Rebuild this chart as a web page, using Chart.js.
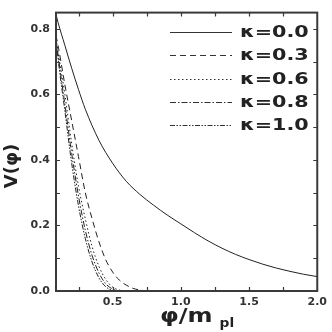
<!DOCTYPE html>
<html>
<head>
<meta charset="utf-8">
<script src="https://cdn.jsdelivr.net/npm/chart.js@4/dist/chart.umd.min.js"></script>
<style>
html,body{margin:0;padding:0;background:#fff;}
#wrap{width:332px;height:332px;}
</style>
</head>
<body>
<div id="wrap"><canvas id="c" width="332" height="332"></canvas></div>
<script>
// ---- data ----
const phiSolid = [0.085,0.1,0.15,0.2,0.25,0.3,0.4,0.5,0.6,0.7,0.8,0.9,1.0,1.1,1.2,1.3,1.4,1.5,1.6,1.7,1.8,1.9,2.0];
const vK00     = [0.845,0.82,0.75,0.68,0.615,0.555,0.46,0.39,0.335,0.295,0.262,0.232,0.205,0.178,0.153,0.131,0.112,0.096,0.082,0.07,0.06,0.051,0.044];
const phiSteep = [0.085,0.1,0.15,0.2,0.25,0.3,0.35,0.4,0.45,0.5,0.55,0.6,0.65,0.7,0.75];
const vK03     = [0.78,0.75,0.63,0.52,0.41,0.30,0.22,0.15,0.095,0.058,0.033,0.018,0.008,0.003,0.0];
const vK06     = [0.77,0.73,0.60,0.45,0.32,0.22,0.135,0.075,0.035,0.012,0.003,0.0];
const vK08     = [0.77,0.72,0.57,0.42,0.29,0.185,0.108,0.055,0.022,0.006,0.0];
const vK10     = [0.77,0.71,0.55,0.39,0.26,0.16,0.088,0.04,0.013,0.002,0.0];
const kappaLabels = ['κ=0.0','κ=0.3','κ=0.6','κ=0.8','κ=1.0'];
const xTickLabels = [0.5,1.0,1.5,2.0];
const xMinorTicks = [0.25,0.5,0.75,1.0,1.25,1.5,1.75];
const yTickLabels = [0.0,0.2,0.4,0.6,0.8];
const yMinorTicks = [0.1,0.2,0.3,0.4,0.5,0.6,0.7,0.8];

const dashes = [[], [6,4], [1.5,2.5], [6,2,1.5,2], [5,1.5,1.5,1.5,1.5,1.5]];
const series = [vK00, vK03, vK06, vK08, vK10];
const xs = [phiSolid, phiSteep, phiSteep, phiSteep, phiSteep];

const datasets = series.map((vals, i) => ({
  label: kappaLabels[i],
  data: vals.map((v, j) => ({x: xs[i][j], y: v})),
  borderColor: '#222',
  borderWidth: 1,
  borderDash: dashes[i],
  pointRadius: 0,
  fill: false,
  cubicInterpolationMode: 'monotone'
}));

const AX = '#3a3a3a';
const frame = {
  id: 'frame',
  afterDraw(chart) {
    const ctx = chart.ctx, a = chart.chartArea;
    const sx = chart.scales.x, sy = chart.scales.y;
    ctx.save();
    ctx.strokeStyle = AX;
    ctx.lineWidth = 2;
    ctx.strokeRect(a.left, a.top, a.right - a.left, a.bottom - a.top);
    ctx.lineWidth = 1.2;
    ctx.beginPath();
    xMinorTicks.forEach(v => {
      const px = Math.round(sx.getPixelForValue(v)) + 0.5;
      ctx.moveTo(px, a.bottom); ctx.lineTo(px, a.bottom - 4);
      ctx.moveTo(px, a.top); ctx.lineTo(px, a.top + 4);
    });
    yMinorTicks.forEach(v => {
      const py = Math.round(sy.getPixelForValue(v)) + 0.5;
      ctx.moveTo(a.left, py); ctx.lineTo(a.left + 4, py);
      ctx.moveTo(a.right, py); ctx.lineTo(a.right - 4, py);
    });
    ctx.stroke();

    // legend
    ctx.fillStyle = '#222';
    ctx.font = 'bold 15px "DejaVu Sans"';
    ctx.textBaseline = 'middle';
    const rows = [32, 55, 79, 102, 125];
    rows.forEach((y, i) => {
      ctx.save();
      ctx.strokeStyle = '#333';
      ctx.lineWidth = 1;
      ctx.setLineDash(dashes[i]);
      ctx.beginPath();
      ctx.moveTo(170, y + 0.5); ctx.lineTo(232, y + 0.5);
      ctx.stroke();
      ctx.restore();
      ctx.save();
      ctx.translate(240, y);
      ctx.scale(1.38, 1);
      ctx.fillText(kappaLabels[i], 0, 1);
      ctx.restore();
    });

    // y title
    ctx.save();
    ctx.translate(12, 166);
    ctx.rotate(-Math.PI / 2);
    ctx.textAlign = 'center';
    ctx.textBaseline = 'middle';
    ctx.font = 'bold 18px "DejaVu Sans"';
    ctx.fillText('V(φ)', 0, 0);
    ctx.restore();

    // x title
    ctx.save();
    ctx.textBaseline = 'alphabetic';
    ctx.textAlign = 'left';
    ctx.font = 'bold 20px "DejaVu Sans"';
    ctx.save();
    ctx.translate(160, 322);
    ctx.scale(1.2, 1);
    ctx.fillText('φ/m', 0, 0);
    const w = ctx.measureText('φ/m').width;
    ctx.restore();
    ctx.font = 'bold 12px "DejaVu Sans"';
    ctx.save();
    ctx.translate(160 + w * 1.2 + 7, 327);
    ctx.scale(1.15, 1);
    ctx.fillText('pl', 0, 0);
    ctx.restore();
    ctx.restore();
    ctx.restore();
  }
};

new Chart(document.getElementById('c'), {
  type: 'line',
  data: { datasets },
  options: {
    responsive: false,
    animation: false,
    layout: { padding: { top: 10, right: 10, left: 0, bottom: 0 } },
    plugins: { legend: { display: false }, tooltip: { enabled: false } },
    scales: {
      x: {
        type: 'linear', min: 0.085, max: 2.0,
        grid: { display: false, drawTicks: false },
        border: { display: false },
        afterBuildTicks: s => { s.ticks = xTickLabels.map(v => ({value: v})); },
        afterFit: s => { s.height = 41; },
        ticks: { autoSkip: false, maxRotation: 0, padding: 5, color: '#333',
          font: { family: 'DejaVu Sans', size: 11, weight: 'bold' },
          callback: v => Number(v).toFixed(1) }
      },
      y: {
        type: 'linear', min: 0, max: 0.85,
        grid: { display: false, drawTicks: false },
        border: { display: false },
        afterBuildTicks: s => { s.ticks = yTickLabels.map(v => ({value: v})); },
        afterFit: s => { s.width = 56; },
        ticks: { autoSkip: false, padding: 6, color: '#333',
          font: { family: 'DejaVu Sans', size: 11, weight: 'bold' },
          callback: v => Number(v).toFixed(1) }
      }
    }
  },
  plugins: [frame]
});
</script>
</body>
</html>
